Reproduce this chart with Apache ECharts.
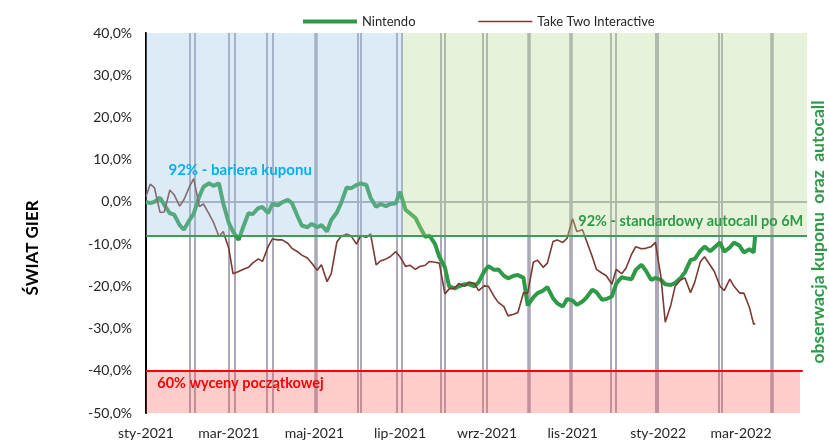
<!DOCTYPE html>
<html>
<head>
<meta charset="utf-8">
<script src="https://cdn.jsdelivr.net/npm/echarts@6/dist/echarts.min.js"></script>
<style>
  html, body { margin: 0; padding: 0; background: #fff; }
  #chart { width: 829px; height: 443px; }
</style>
</head>
<body>
<div id="chart"></div>
<script>
// notowania (Mon / Thu), zmiana od wyceny początkowej w %
const dates = [
  '2021-01-01',
  '2021-01-04', '2021-01-07', '2021-01-11', '2021-01-14', '2021-01-18', '2021-01-21', '2021-01-25', '2021-01-28',
  '2021-02-01', '2021-02-04', '2021-02-08', '2021-02-11', '2021-02-15', '2021-02-18', '2021-02-22', '2021-02-25',
  '2021-03-01', '2021-03-04', '2021-03-08', '2021-03-11', '2021-03-15', '2021-03-18', '2021-03-22', '2021-03-25',
  '2021-03-29', '2021-04-01', '2021-04-05', '2021-04-08', '2021-04-12', '2021-04-15', '2021-04-19', '2021-04-22',
  '2021-04-26', '2021-04-29', '2021-05-03', '2021-05-06', '2021-05-10', '2021-05-13', '2021-05-17', '2021-05-20',
  '2021-05-24', '2021-05-27', '2021-05-31', '2021-06-03', '2021-06-07', '2021-06-10', '2021-06-14', '2021-06-17',
  '2021-06-21', '2021-06-24', '2021-06-28', '2021-07-01', '2021-07-05', '2021-07-08', '2021-07-12', '2021-07-15',
  '2021-07-19', '2021-07-22', '2021-07-26', '2021-07-29', '2021-08-02', '2021-08-05', '2021-08-09', '2021-08-12',
  '2021-08-16', '2021-08-19', '2021-08-23', '2021-08-26', '2021-08-30', '2021-09-02', '2021-09-06', '2021-09-09',
  '2021-09-13', '2021-09-16', '2021-09-20', '2021-09-23', '2021-09-27', '2021-09-30', '2021-10-04', '2021-10-07',
  '2021-10-11', '2021-10-14', '2021-10-18', '2021-10-21', '2021-10-25', '2021-10-28', '2021-11-01', '2021-11-04',
  '2021-11-08', '2021-11-11', '2021-11-15', '2021-11-18', '2021-11-22', '2021-11-25', '2021-11-29', '2021-12-02',
  '2021-12-06', '2021-12-09', '2021-12-13', '2021-12-16', '2021-12-20', '2021-12-23', '2021-12-27', '2021-12-30',
  '2022-01-03', '2022-01-06', '2022-01-10', '2022-01-13', '2022-01-17', '2022-01-20', '2022-01-24', '2022-01-27',
  '2022-01-31', '2022-02-03', '2022-02-07', '2022-02-10', '2022-02-14', '2022-02-17', '2022-02-21', '2022-02-24',
  '2022-02-28', '2022-03-03', '2022-03-07', '2022-03-10', '2022-03-11'
];

const nintendo = [
  0.0,
  -0.3, 0.0, 1.0, -0.7, -2.7, -3.0, -5.5, -6.6,
  -4.3, -2.8, 1.3, 3.6, 4.4, 3.8, 4.4, -0.3,
  -5.0, -7.0, -9.0, -6.2, -2.7, -2.9, -1.5, -1.2,
  -2.7, -0.5, -0.8, -0.1, 0.5, -0.3, -3.4, -5.6,
  -6.0, -5.2, -6.0, -5.5, -7.0, -4.3, -2.5, -0.3,
  3.4, 3.2, 4.0, 4.4, 4.0, 1.0, -1.2, -0.5,
  -1.0, -0.5, -0.3, 2.4, -1.9, -2.7, -3.8, -5.8,
  -8.3, -8.0, -10.0, -13.0, -15.5, -20.0, -20.5, -20.0,
  -19.5, -19.5, -20.0, -19.0, -16.5, -15.2, -16.1, -16.0,
  -17.5, -18.1, -17.5, -17.3, -18.0, -24.5, -22.6, -21.6,
  -21.0, -20.2, -22.8, -24.0, -24.8, -23.0, -23.4, -24.4,
  -23.6, -22.6, -20.8, -21.4, -23.2, -23.0, -22.4, -19.4,
  -17.8, -18.1, -18.3, -16.1, -14.9, -16.2, -18.5, -18.0,
  -18.5, -19.5, -19.7, -19.2, -18.0, -16.7, -13.8, -13.5,
  -11.6, -10.6, -11.7, -10.8, -9.6, -11.8, -10.8, -9.6,
  -10.4, -12.0, -11.2, -12.0, -8.2
];

const takeTwo = [
  1.3,
  4.2, 3.4, -2.5, -2.4, 2.8, 1.7, -1.0, 0.5,
  3.6, 5.5, -1.1, -0.5, -2.9, -4.8, -8.2, -7.0,
  -11.0, -17.0, -16.5, -16.0, -15.5, -14.5, -13.5, -14.1,
  -10.6, -8.8, -9.0, -9.0, -9.8, -11.0, -11.8, -12.6,
  -13.3, -14.5, -16.2, -14.9, -18.9, -17.0, -9.5, -8.2,
  -7.6, -8.0, -10.0, -8.0, -8.4, -7.6, -14.9, -14.0,
  -13.5, -13.0, -11.8, -13.0, -15.3, -15.0, -16.0, -15.3,
  -15.0, -14.1, -14.3, -14.5, -21.8, -20.6, -20.4, -19.3,
  -20.0, -19.0, -19.3, -21.0, -19.9, -20.0, -22.4, -23.8,
  -24.8, -27.0, -26.6, -26.2, -21.5, -21.6, -14.3, -13.8,
  -15.5, -14.5, -9.4, -9.0, -9.6, -8.6, -4.0, -7.0,
  -6.6, -9.3, -13.0, -16.0, -16.9, -17.5, -19.5, -16.0,
  -17.0, -15.7, -12.4, -10.6, -11.1, -11.0, -10.6, -9.6,
  -18.0, -28.5, -24.4, -20.0, -18.5, -18.0, -21.5, -19.0,
  -14.2, -13.0, -15.0, -16.5, -20.0, -21.0, -18.3, -20.0,
  -21.6, -21.6, -25.0, -29.0, -28.7
];

// daty obserwacji (pionowe linie), pogrubione = podwójne
const obsDates = [
  '2021-02-01', '2021-02-05', '2021-03-01', '2021-03-05', '2021-03-28', '2021-04-01',
  '2021-06-01', '2021-06-03', '2021-06-29', '2021-07-02', '2021-07-30', '2021-08-02',
  '2021-08-29', '2021-09-01', '2021-11-28', '2021-12-02', '2021-12-30', '2022-01-01',
  '2022-02-13', '2022-02-15'
];
const obsDatesThick = ['2021-05-02', '2021-10-01', '2021-10-31', '2022-03-23'];

const monthNames = ['sty', 'lut', 'mar', 'kwi', 'maj', 'cze', 'lip', 'sie', 'wrz', 'paź', 'lis', 'gru'];

const couponBarrier = -8;
const capitalBarrier = -40;
const xStart = '2021-01-01';
const xEnd = '2022-04-17';
const autocallStart = '2021-07-03';

const FONT = 'Lato, "Noto Sans", sans-serif';

const chart = echarts.init(document.getElementById('chart'), null, { renderer: 'canvas' });

const obsLines = obsDates.map(d => ({ xAxis: d }))
  .concat(obsDatesThick.map(d => ({ xAxis: d, lineStyle: { width: 3.5 } })));

chart.setOption({
  animation: false,
  backgroundColor: '#fff',
  textStyle: { fontFamily: FONT },
  legend: {
    left: 296,
    top: 10,
    itemWidth: 54,
    itemHeight: 14,
    itemGap: 62,
    itemStyle: { opacity: 0 },
    data: [
      { name: 'Nintendo', lineStyle: { width: 4, color: '#2e9a47' } },
      { name: 'Take Two Interactive', lineStyle: { width: 1.6, color: '#7a3a32' } }
    ],
    textStyle: { fontSize: 13, color: '#262626', fontFamily: FONT }
  },
  // rotated side titles
  graphic: [
    {
      type: 'text', x: 33, y: 248, rotation: Math.PI / 2,
      style: { text: 'ŚWIAT GIER', fill: '#000', font: 'bold 17px ' + FONT, textAlign: 'center', textVerticalAlign: 'middle' }
    },
    {
      type: 'text', x: 818, y: 232, rotation: Math.PI / 2,
      style: { text: 'obserwacja kuponu  oraz  autocall', fill: '#2e9a48', font: 'bold 17.5px ' + FONT, textAlign: 'center', textVerticalAlign: 'middle' }
    }
  ],
  grid: { left: 146, right: 22, top: 33, bottom: 30, outerBoundsMode: 'none', containLabel: false },
  xAxis: {
    type: 'time',
    min: xStart,
    max: xEnd,
    minInterval: 61 * 24 * 3600 * 1000,
    maxInterval: 61 * 24 * 3600 * 1000,
    axisLine: { show: false, onZero: false },
    axisTick: { show: false },
    splitLine: { show: false },
    axisLabel: {
      margin: 13,
      fontSize: 14,
      color: '#262626',
      fontFamily: FONT,
      hideOverlap: false,
      formatter: function (value) {
        const d = new Date(value);
        return monthNames[d.getMonth()] + '-' + d.getFullYear();
      }
    }
  },
  yAxis: {
    type: 'value',
    min: -50,
    max: 40,
    interval: 10,
    axisLine: { show: true, lineStyle: { color: '#000', width: 2 } },
    axisTick: { show: false },
    splitLine: { show: false },
    axisLabel: {
      margin: 14,
      fontSize: 14,
      color: '#262626',
      fontFamily: FONT,
      formatter: v => v.toFixed(1).replace('.', ',') + '%'
    }
  },
  series: [
    {
      name: 'obs',
      type: 'line',
      data: [],
      z: 1,
      markLine: {
        z: 1,
        silent: true,
        symbol: ['none', 'none'],
        label: { show: false },
        lineStyle: { color: '#a9a9b7', width: 2, type: 'solid' },
        data: obsLines.concat([{ yAxis: 0, lineStyle: { color: '#a7abb4', width: 2 } }])
      }
    },
    {
      name: 'Nintendo',
      type: 'line',
      z: 3,
      symbol: 'none',
      color: '#2e9a47',
      lineStyle: { color: '#2e9a47', width: 4 },
      data: dates.map((d, i) => [d, nintendo[i]])
    },
    {
      name: 'Take Two Interactive',
      type: 'line',
      z: 4,
      symbol: 'none',
      color: '#7a3a32',
      lineStyle: { color: '#7a3a32', width: 1.6 },
      data: dates.map((d, i) => [d, takeTwo[i]])
    },
    {
      name: 'bands',
      type: 'line',
      data: [],
      z: 10,
      markArea: {
        z: 10,
        silent: true,
        label: { show: false },
        data: [
          [{ xAxis: xStart, yAxis: couponBarrier, itemStyle: { color: 'rgba(158,198,232,0.35)' } }, { xAxis: autocallStart, yAxis: 40 }],
          [{ xAxis: autocallStart, yAxis: couponBarrier, itemStyle: { color: 'rgba(184,218,149,0.35)' } }, { xAxis: xEnd, yAxis: 40 }],
          [{ xAxis: xStart, yAxis: -50, itemStyle: { color: 'rgba(255,85,85,0.3)' } }, { xAxis: '2022-04-12', yAxis: capitalBarrier }]
        ]
      },
      markLine: {
        z: 11,
        silent: true,
        symbol: ['none', 'none'],
        label: { show: false },
        data: [
          { yAxis: couponBarrier, lineStyle: { color: '#3c9d58', width: 2, type: 'solid' } },
          [{ coord: [xStart, capitalBarrier], lineStyle: { color: '#ff0000', width: 2, type: 'solid' } },
           { coord: ['2022-04-14', capitalBarrier] }]
        ]
      },
      markPoint: {
        z: 12,
        silent: true,
        symbol: 'circle',
        symbolSize: 0,
        label: { show: true, position: 'right', distance: 0, fontWeight: 'bold', fontSize: 15, fontFamily: FONT },
        data: [
          { coord: ['2021-01-17', 7.6], value: 1, label: { color: '#00b0f0', formatter: '92% - bariera kuponu' } },
          { coord: ['2021-11-05', -4.5], value: 2, label: { color: '#2e9a48', fontSize: 14.5, formatter: '92% - standardowy autocall po 6M' } },
          { coord: ['2021-01-09', -43.0], value: 3, label: { color: '#ff0000', fontSize: 14.5, formatter: '60% wyceny początkowej' } }
        ]
      }
    }
  ]
});
</script>
</body>
</html>
